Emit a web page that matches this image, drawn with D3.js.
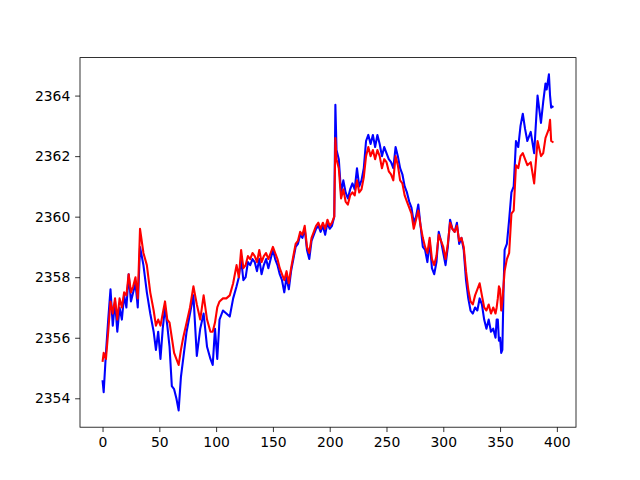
<!DOCTYPE html>
<html><head><meta charset="utf-8">
<script src="https://cdn.jsdelivr.net/npm/d3@7"></script>
<style>body{margin:0;background:#fff}svg{display:block}</style>
</head><body><svg id="c" width="640" height="480"></svg>
<script>
const xs = [0,1,3,5,7,9,11,13,15,17,19,21,23,25,27,29,31,
33,36,39,42,45,47,49,51,53,55,57,59,61,63,65,67,69,71,74,77,80,83,86,89,92,95,97,99,101,103,106,109,112,115,118,120,
122,124,126,128,130,132,134,136,138,140,142,144,146,148,150,152,154,156,158,160,162,164,166,168,170,172,174,176,178,180,182,184,186,188,190,192,194,196,198,200,202,204,205,206,208,210,212,214,216,218,220,222,224,226,228,230,232,234,236,238,240,242,244,246,248,250,252,254,256,258,260,262,264,266,268,270,272,274,276,278,280,282,284,286,288,290,292,294,296,298,300,302,304,306,308,310,312,314,316,318,320,322,324,326,328,330,332,334,336,338,340,342,344,
346,347,348,349,350,351,352,353,354,356,358,360,362,364,366,368,370,372,374,377,380,383,386,388,390,391,393,394,395,397];
const blueSeries = [2354.6,2354.2,2355.5,2356.6,2357.6,2356.4,2357.2,2356.2,2357.0,2356.6,2357.4,2357.0,2358.1,2357.2,2357.5,2357.8,2357.0,
2359.0,2358.4,2357.5,2356.8,2356.2,2355.6,2356.2,2355.3,2356.3,2357.0,2356.4,2355.7,2354.4,2354.3,2354.0,2353.6,2354.7,2355.3,2356.2,2356.8,2357.4,2355.4,2356.3,2356.8,2355.7,2355.3,2355.1,2356.3,2355.3,2356.6,2356.9,2356.8,2356.7,2357.3,2357.7,2358.0,
2358.6,2357.9,2358.0,2358.5,2358.4,2358.6,2358.5,2358.2,2358.6,2358.1,2358.4,2358.6,2358.3,2358.6,2358.9,2358.6,2358.4,2358.1,2357.9,2357.5,2358.0,2357.6,2358.2,2358.6,2359.0,2359.1,2359.4,2359.3,2359.6,2358.9,2358.6,2359.2,2359.4,2359.6,2359.7,2359.5,2359.7,2359.4,2359.8,2359.6,2359.7,2360.0,2363.7,2362.2,2361.9,2360.8,2361.2,2360.8,2360.6,2360.9,2361.1,2360.9,2361.6,2361.0,2361.2,2361.6,2362.5,2362.7,2362.4,2362.7,2362.3,2362.7,2362.4,2362.0,2362.3,2362.1,2361.9,2361.8,2361.6,2362.3,2362.0,2361.6,2361.4,2361.0,2360.8,2360.5,2360.3,2359.8,2360.0,2360.4,2359.7,2359.0,2358.9,2358.5,2359.2,2358.3,2358.1,2358.5,2359.5,2359.2,2358.8,2358.4,2359.0,2359.9,2359.6,2359.5,2359.8,2359.1,2359.3,2358.9,2357.9,2357.3,2356.9,2356.8,2357.0,2356.9,2357.3,2357.1,2356.6,2356.3,2356.6,2356.2,2356.3,
2356.0,2356.6,2356.6,2355.9,2356.0,2355.5,2355.6,2357.5,2358.9,2359.1,2359.9,2360.8,2361.0,2362.5,2362.3,2363.0,2363.4,2362.9,2362.5,2362.8,2362.1,2364.0,2363.1,2363.8,2364.4,2364.2,2364.7,2364.0,2363.6,2363.65];
const redSeries = [2355.2,2355.5,2355.3,2356.2,2357.2,2356.8,2357.3,2356.6,2357.3,2357.0,2357.5,2357.4,2358.1,2357.5,2357.7,2358.0,2357.3,
2359.6,2358.8,2358.4,2357.5,2356.9,2356.4,2356.6,2356.4,2356.8,2357.2,2356.6,2356.5,2356.0,2355.5,2355.3,2355.1,2355.6,2356.0,2356.5,2357.0,2357.7,2357.1,2356.6,2357.4,2356.6,2356.2,2356.2,2356.5,2357.0,2357.2,2357.3,2357.3,2357.4,2357.8,2358.4,2358.0,
2358.9,2358.3,2358.4,2358.7,2358.6,2358.8,2358.7,2358.5,2358.9,2358.5,2358.7,2358.8,2358.6,2358.8,2359.0,2358.8,2358.6,2358.3,2358.1,2357.9,2358.2,2357.8,2358.3,2358.7,2359.1,2359.2,2359.5,2359.4,2359.7,2359.0,2358.8,2359.3,2359.5,2359.7,2359.8,2359.6,2359.8,2359.6,2359.9,2359.7,2359.8,2360.0,2362.6,2361.9,2361.6,2360.6,2360.9,2360.5,2360.4,2360.7,2360.8,2360.7,2361.2,2360.8,2360.9,2361.3,2362.0,2362.3,2362.0,2362.2,2361.9,2362.2,2362.0,2361.6,2361.9,2361.8,2361.5,2361.4,2361.2,2362.0,2361.7,2361.2,2361.1,2360.7,2360.5,2360.3,2360.1,2359.6,2359.9,2360.2,2359.7,2359.3,2359.0,2358.8,2359.3,2358.6,2358.4,2358.7,2359.4,2359.2,2359.0,2358.6,2359.1,2359.8,2359.6,2359.5,2359.7,2359.2,2359.3,2359.0,2358.2,2357.6,2357.2,2357.1,2357.4,2357.6,2357.8,2357.4,2357.0,2356.9,2357.1,2356.8,2357.0,
2356.8,2357.0,2357.3,2357.7,2357.6,2356.9,2357.2,2357.7,2358.2,2358.6,2358.8,2360.1,2360.2,2361.7,2361.6,2362.0,2362.1,2361.9,2361.7,2361.8,2361.1,2362.5,2362.0,2362.1,2362.6,2362.7,2362.9,2363.2,2362.5,2362.45];
const xTicks = [0,50,100,150,200,250,300,350,400];
const yTicks = [2354,2356,2358,2360,2362,2364];

const svg = d3.select('#c');
const L=80, R=576, T=57.6, B=427.2;
const xmin=d3.min(xs), xmax=d3.max(xs);
const all=blueSeries.concat(redSeries);
const ymin=d3.min(all), ymax=d3.max(all);
const x=d3.scaleLinear().domain([xmin-0.05*(xmax-xmin), xmax+0.05*(xmax-xmin)]).range([L,R]);
const y=d3.scaleLinear().domain([ymin-0.05*(ymax-ymin), ymax+0.05*(ymax-ymin)]).range([B,T]);
svg.append('rect').attr('width',640).attr('height',480).attr('fill','#fff');
const line=d3.line().x((d,i)=>x(xs[i])).y(d=>y(d));
const g=svg.append('g');
g.append('path').datum(blueSeries).attr('d',line).attr('fill','none').attr('stroke','#0000ff').attr('stroke-width',2.08).attr('stroke-linejoin','round');
g.append('path').datum(redSeries).attr('d',line).attr('fill','none').attr('stroke','#ff0000').attr('stroke-width',2.08).attr('stroke-linejoin','round');
svg.append('rect').attr('x',L).attr('y',T).attr('width',R-L).attr('height',B-T).attr('fill','none').attr('stroke','#000').attr('stroke-width',0.8);
const font='"DejaVu Sans", sans-serif';
const ax=svg.append('g').attr('transform',`translate(0,${B})`).call(d3.axisBottom(x).tickValues(xTicks).tickSize(4.86).tickPadding(4.86).tickSizeOuter(0));
const ay=svg.append('g').attr('transform',`translate(${L},0)`).call(d3.axisLeft(y).tickValues(yTicks).tickFormat(d3.format('d')).tickSize(4.86).tickPadding(4.86).tickSizeOuter(0));
[ax,ay].forEach(a=>{a.select('.domain').remove();a.selectAll('line').attr('stroke','#000').attr('stroke-width',0.8);a.selectAll('text').attr('font-family',font).attr('font-size','13.9px').attr('fill','#000');});
</script></body></html>
